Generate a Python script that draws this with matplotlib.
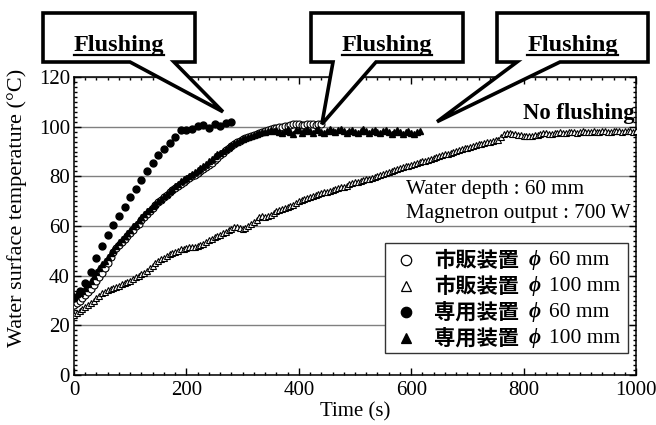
"""Water surface temperature during microwave heating, with/without flushing."""

import numpy as np
import matplotlib
matplotlib.use('Agg')
import matplotlib.pyplot as plt
from matplotlib.patches import Polygon, Rectangle
from matplotlib.lines import Line2D
from matplotlib.ticker import MultipleLocator

SERIF = ['Liberation Serif', 'DejaVu Serif']
CJK = ['Noto Sans CJK JP', 'DejaVu Sans']
plt.rcParams['font.family'] = SERIF

# 市販装置 phi 100 mm (open triangles), every 5 s
t_com100 = np.arange(0, 1001, 5)
temp_com100 = [
    24.0, 25.0, 25.8, 26.5, 27.4, 28.3, 29.0, 30.0, 30.9, 32.0,
    33.0, 33.6, 34.2, 34.6, 35.2, 35.6, 36.0, 36.5, 37.0, 37.4,
    38.0, 38.6, 39.3, 39.9, 40.6, 41.2, 42.0, 42.9, 43.9, 44.9,
    45.8, 46.6, 47.3, 47.9, 48.6, 49.2, 49.7, 50.1, 50.6, 50.9,
    51.2, 51.4, 51.6, 51.7, 51.9, 52.3, 52.9, 53.6, 54.3, 54.9,
    55.4, 55.9, 56.4, 57.0, 57.6, 58.2, 58.9, 59.4, 59.6, 59.1,
    58.8, 59.2, 59.9, 60.8, 61.7, 62.6, 63.5, 63.9, 63.6, 63.9,
    64.6, 65.3, 65.9, 66.4, 66.9, 67.2, 67.6, 68.0, 68.5, 69.2,
    70.0, 70.5, 70.9, 71.2, 71.6, 72.0, 72.4, 72.8, 73.1, 73.5,
    73.7, 74.0, 74.6, 74.9, 75.2, 75.6, 75.9, 76.3, 76.8, 77.2,
    77.6, 77.9, 78.2, 78.6, 78.9, 79.1, 79.4, 79.8, 80.2, 80.6,
    81.0, 81.4, 81.8, 82.2, 82.6, 83.0, 83.3, 83.6, 84.0, 84.3,
    84.6, 84.9, 85.2, 85.6, 86.0, 86.3, 86.6, 87.0, 87.4, 87.8,
    88.2, 88.5, 88.8, 89.1, 89.5, 89.9, 90.3, 90.7, 91.0, 91.3,
    91.6, 91.9, 92.2, 92.5, 92.9, 93.2, 93.4, 93.7, 94.0, 94.3,
    94.5, 94.7, 95.8, 97.0, 97.3, 97.4, 97.2, 97.0, 96.8, 96.5,
    96.4, 96.2, 96.1, 96.3, 96.6, 96.8, 97.0, 97.3, 97.4, 97.2,
    97.0, 97.3, 97.6, 97.8, 97.6, 97.4, 97.7, 98.0, 97.8, 97.6,
    97.9, 98.1, 97.9, 97.7, 98.0, 98.2, 98.0, 97.8, 98.1, 98.3,
    98.0, 97.8, 98.1, 98.3, 98.1, 97.9, 98.2, 98.4, 98.1, 97.9,
    98.2,
]

# 市販装置 phi 60 mm (open circles), every 5 s
t_com60 = np.arange(0, 441, 5)
temp_com60 = [
    28.0, 29.0, 30.0, 31.0, 32.3, 33.4, 34.8, 36.3, 37.8, 39.4,
    41.0, 43.0, 45.3, 47.6, 49.6, 51.2, 52.4, 53.6, 54.8, 55.8,
    57.2, 58.5, 59.8, 61.0, 62.3, 63.6, 64.9, 66.1, 67.3, 68.4,
    69.5, 70.5, 71.5, 72.5, 73.5, 74.5, 75.4, 76.2, 77.0, 77.8,
    78.5, 79.2, 80.0, 80.7, 81.5, 82.3, 83.0, 83.8, 84.6, 85.5,
    86.5, 87.5, 88.5, 89.5, 90.5, 91.4, 92.3, 93.0, 93.8, 94.4,
    95.0, 95.5, 96.0, 96.4, 96.8, 97.2, 97.6, 98.0, 98.3, 98.6,
    99.0, 99.3, 99.5, 99.7, 100.0, 100.2, 100.3, 100.6, 100.9, 101.0,
    101.2, 100.8, 100.6, 101.0, 101.2, 100.9, 100.7, 101.1, 101.0,
]

# 専用装置 phi 100 mm (filled triangles), every 5 s
t_ded100 = np.arange(0, 616, 5)
temp_ded100 = [
    32.0, 32.5, 33.0, 34.0, 35.0, 36.5, 38.0, 39.8, 41.5, 43.0,
    44.5, 46.0, 47.5, 49.0, 50.5, 52.0, 53.5, 54.8, 56.0, 57.3,
    58.5, 59.8, 61.0, 62.3, 63.5, 64.8, 66.0, 67.0, 68.0, 69.0,
    70.0, 71.0, 72.0, 73.0, 74.0, 75.0, 76.0, 77.0, 78.0, 78.8,
    79.5, 80.3, 81.0, 81.8, 82.5, 83.3, 84.0, 85.0, 86.0, 87.0,
    88.0, 88.8, 89.5, 90.3, 91.0, 91.8, 92.5, 93.3, 94.0, 94.5,
    95.0, 95.5, 96.0, 96.4, 96.8, 97.2, 97.5, 97.8, 98.0, 98.3,
    98.5, 98.2, 98.6, 98.0, 97.6, 98.4, 98.9, 97.8, 97.2, 98.5,
    98.8, 97.4, 98.2, 99.0, 98.3, 97.6, 98.6, 99.1, 98.0, 97.5,
    98.4, 98.9, 98.1, 97.7, 98.5, 99.0, 98.2, 97.6, 98.3, 98.8,
    98.0, 97.5, 98.4, 98.9, 98.1, 97.4, 98.2, 98.8, 97.9, 97.3,
    98.1, 98.7, 97.8, 97.2, 98.0, 98.6, 97.7, 97.1, 97.9, 98.4,
    97.6, 97.0, 97.8, 98.2,
]

# 専用装置 phi 60 mm (filled circles), every 10 s
t_ded60 = np.arange(0, 281, 10)
temp_ded60 = [
    31.0, 34.0, 37.0, 41.5, 47.0, 52.0, 56.5, 60.5, 64.0, 67.5,
    71.5, 75.0, 78.5, 82.0, 85.5, 88.5, 91.0, 93.5, 96.0, 98.5,
    98.8, 99.2, 100.3, 100.8, 99.6, 100.9, 100.4, 101.6, 102.0,
]

legend_names = ['市販装置', '市販装置', '専用装置', '専用装置']
legend_sizes = ['60 mm', '100 mm', '60 mm', '100 mm']
legend_markers = [('o', 'white'), ('^', 'white'), ('o', 'black'), ('^', 'black')]

# callout boxes: (left, right, top, bottom, base_left, base_right) in pixels
# from the top-left corner of the figure, and the data point each one marks
callouts = [
    ((43, 195, 13, 62, 130, 174), (265, 106)),
    ((311, 463, 13, 62, 333, 376), (441, 101)),
    ((497, 648, 13, 62, 517, 560), (646, 102)),
]

W, H = 656, 425
fig = plt.figure(figsize=(W / 100, H / 100), dpi=100)
ax = fig.add_axes([74 / W, 1 - 375 / H, 562 / W, 298 / H])

ax.plot(t_com100, temp_com100, '^', ms=4.8, mfc='white', mec='black',
        mew=0.8, zorder=3)
ax.plot(t_com60, temp_com60, 'o', ms=5.0, mfc='white', mec='black',
        mew=0.8, zorder=3)
ax.plot(t_ded100, temp_ded100, '^', ms=4.8, color='black', zorder=3)
ax.plot(t_ded60, temp_ded60, 'o', ms=5.0, color='black', zorder=3)

ax.set_xlim(0, 1000)
ax.set_ylim(0, 120)
ax.xaxis.set_major_locator(MultipleLocator(200))
ax.xaxis.set_minor_locator(MultipleLocator(20))
ax.yaxis.set_major_locator(MultipleLocator(20))
ax.yaxis.set_minor_locator(MultipleLocator(2))
ax.tick_params(which='both', direction='in', top=True, right=True,
               labelsize=15, width=1)
ax.tick_params(which='major', length=5, pad=2)
ax.tick_params(which='minor', length=2.5)
ax.tick_params(axis='x', which='major', pad=4)
ax.tick_params(axis='y', which='major', pad=3)
ax.yaxis.grid(True, which='major', color='#808080', lw=1.0)
ax.set_axisbelow(True)
for s in ax.spines.values():
    s.set_linewidth(1.1)

ax.set_xlabel('Time (s)', fontsize=15)
ax.xaxis.set_label_coords(0.5, -0.09)
ax.set_ylabel('Water surface temperature (\u00b0C)', fontsize=16)
ax.yaxis.set_label_coords(-0.084, 0.56)

ax.text(997, 105.5, 'No flushing', ha='right', va='center', fontsize=16.3,
        fontweight='bold')
ax.text(591, 74.5, 'Water depth : 60 mm', ha='left', va='center',
        fontsize=15.2)
ax.text(591, 65, 'Magnetron output : 700 W', ha='left', va='center',
        fontsize=15.2)

# legend drawn by hand (mixed CJK / serif text)
ax.add_patch(Rectangle((553, 8.9), 433, 44.3, facecolor='white',
                       edgecolor='#333333', lw=1.0, zorder=4))
for i, (name, size, (mk, fc)) in enumerate(zip(legend_names, legend_sizes,
                                                legend_markers)):
    yy = 46.3 - i * 10.5
    ax.plot([591], [yy], mk, ms=7.5, mfc=fc, mec='black', mew=0.9, zorder=5)
    ax.text(641, yy, name, ha='left', va='center', fontsize=15.3,
            family=CJK, fontweight='bold', zorder=5)
    ax.text(820, yy, '\u03d5', ha='center', va='center', fontsize=15,
            style='italic', fontweight='bold', zorder=5)
    ax.text(846, yy, size, ha='left', va='center', fontsize=15.5, zorder=5)

# callouts
to_fig = ax.transData + fig.transFigure.inverted()
labels = []
for (left, right, top, bottom, bl, br), tip in callouts:
    tx, ty = to_fig.transform(tip)
    verts = [(left / W, 1 - top / H), (right / W, 1 - top / H),
             (right / W, 1 - bottom / H), (br / W, 1 - bottom / H),
             (tx, ty), (bl / W, 1 - bottom / H), (left / W, 1 - bottom / H)]
    fig.add_artist(Polygon(verts, closed=True, facecolor='white',
                           edgecolor='black', lw=2.6, joinstyle='miter',
                           transform=fig.transFigure, zorder=5))
    txt = fig.text((left + right) / 2 / W, 1 - 51 / H, 'Flushing',
                   ha='center', va='baseline', fontsize=17.5,
                   fontweight='bold', zorder=6)
    labels.append(txt)

fig.canvas.draw()
for txt in labels:
    bb = txt.get_window_extent()
    yl = (H - 54.5) / H
    fig.add_artist(Line2D([bb.x0 / W, bb.x1 / W], [yl, yl], color='black',
                          lw=1.6, transform=fig.transFigure, zorder=6))

fig.savefig('out.png', dpi=100)
